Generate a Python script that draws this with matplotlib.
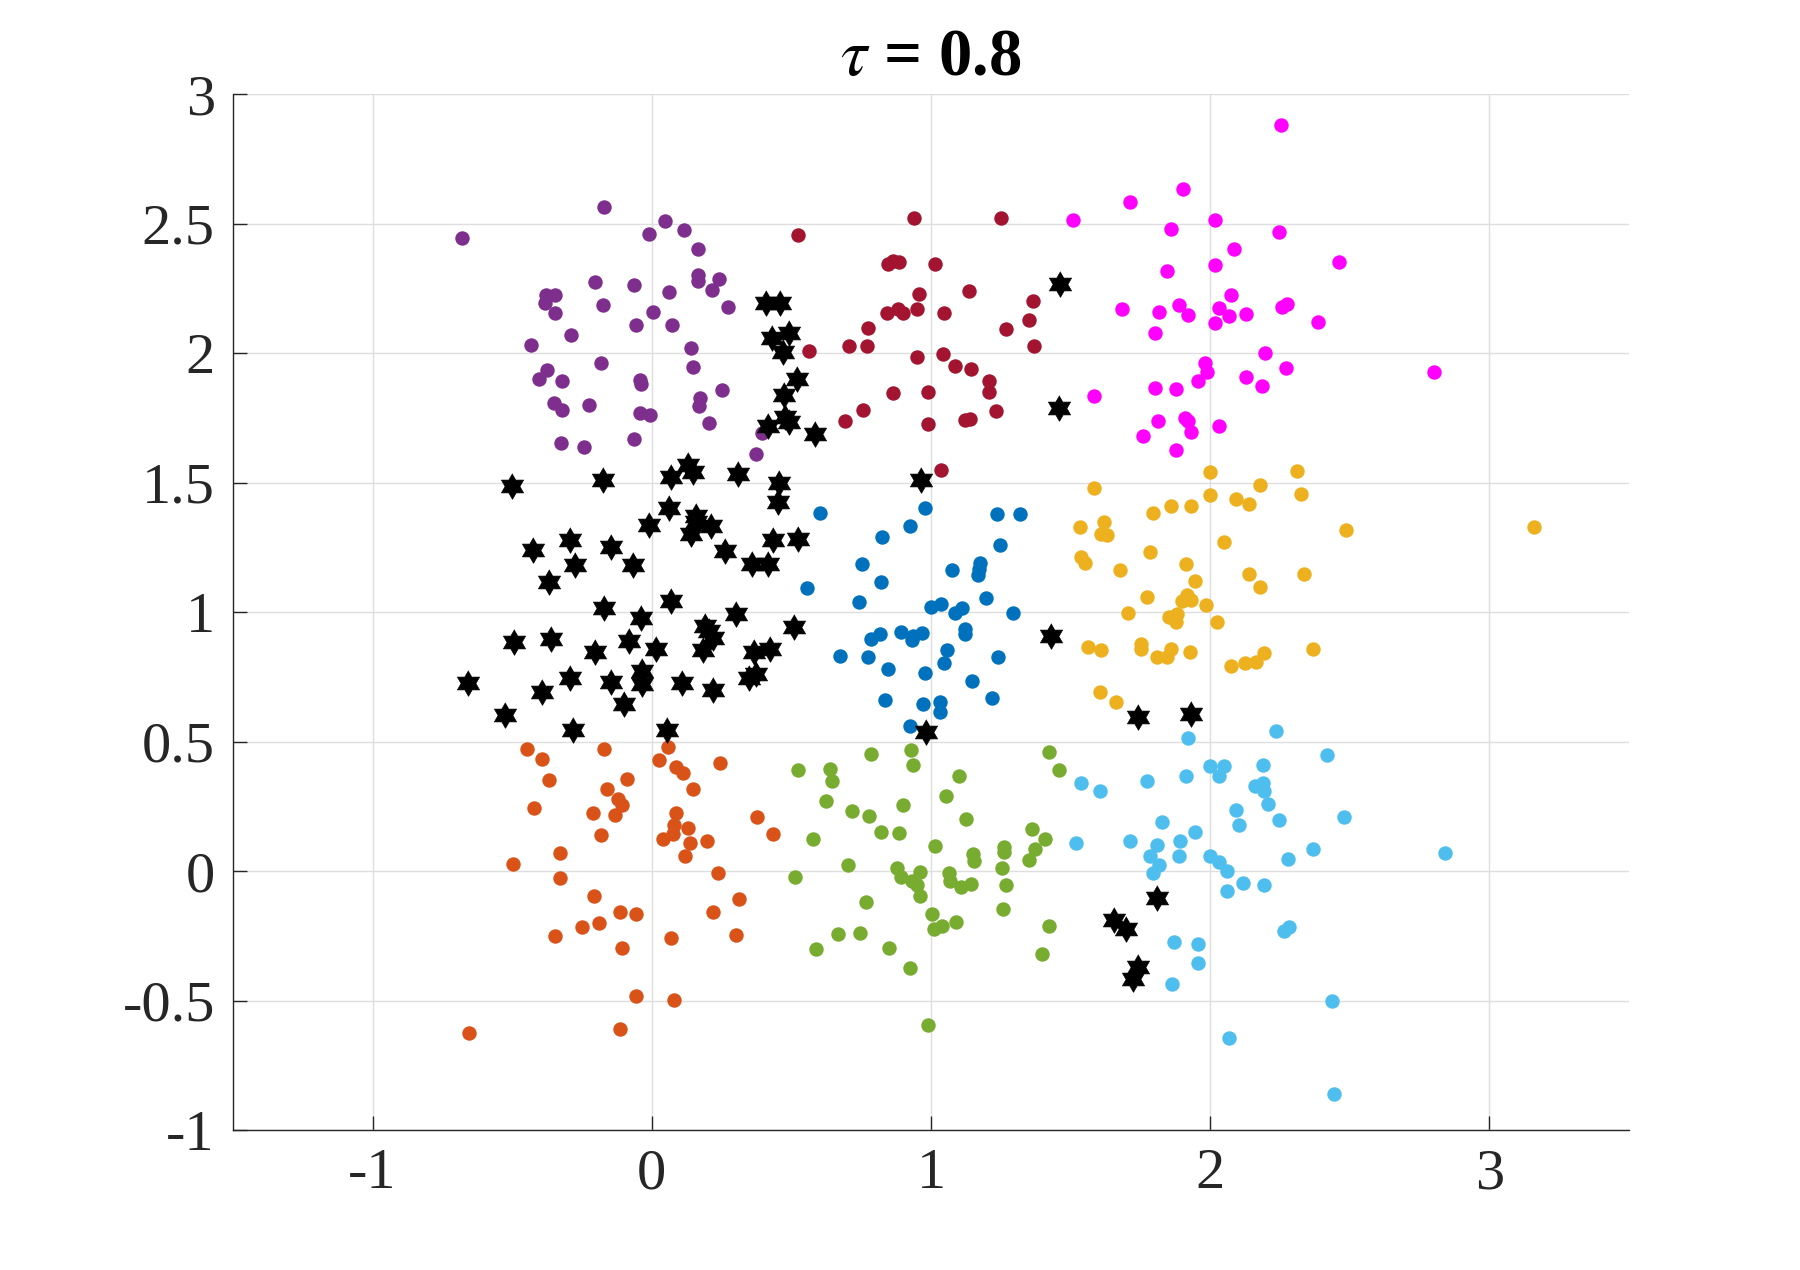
import matplotlib
matplotlib.use("Agg")
import matplotlib.pyplot as plt
import numpy as np

# cluster points, (x, y)
purple_pts = np.array([
    (-0.681, 2.446), (-0.172, 2.566), (0.049, 2.509), (-0.011, 2.461), (0.114, 2.477),
    (0.165, 2.403), (0.165, 2.300), (0.165, 2.279), (0.240, 2.285), (0.217, 2.245),
    (-0.204, 2.276), (-0.065, 2.264), (0.061, 2.235), (-0.379, 2.224), (-0.346, 2.226),
    (-0.384, 2.195), (-0.176, 2.187), (-0.348, 2.156), (0.004, 2.160), (0.272, 2.177),
    (-0.057, 2.107), (0.072, 2.107), (-0.288, 2.068), (-0.434, 2.032), (0.140, 2.021),
    (-0.183, 1.963), (-0.376, 1.933), (-0.403, 1.901), (-0.320, 1.894), (0.149, 1.947),
    (-0.043, 1.898), (-0.039, 1.879), (0.253, 1.858), (-0.351, 1.808), (-0.320, 1.779),
    (-0.226, 1.801), (-0.043, 1.770), (-0.006, 1.762), (0.174, 1.828), (0.168, 1.796),
    (0.204, 1.731), (-0.326, 1.654), (-0.244, 1.639), (-0.065, 1.669), (0.395, 1.692),
    (0.373, 1.611)])

darkred_pts = np.array([
    (0.523, 2.457), (0.563, 2.007), (0.940, 2.522), (1.252, 2.522), (0.846, 2.344),
    (0.865, 2.354), (0.887, 2.351), (1.014, 2.344), (1.137, 2.240), (0.958, 2.229),
    (1.367, 2.202), (0.843, 2.155), (0.882, 2.169), (0.901, 2.154), (0.951, 2.171),
    (1.048, 2.155), (0.775, 2.097), (1.270, 2.093), (1.351, 2.128), (1.370, 2.027),
    (0.707, 2.027), (0.772, 2.027), (0.950, 1.985), (1.044, 1.998), (1.087, 1.950),
    (1.145, 1.938), (1.209, 1.891), (1.209, 1.850), (0.865, 1.846), (0.990, 1.851),
    (0.757, 1.780), (0.693, 1.737), (0.990, 1.726), (1.122, 1.743), (1.140, 1.747),
    (1.234, 1.776), (1.037, 1.548)])

magenta_pts = np.array([
    (1.901, 2.634), (1.712, 2.584), (1.507, 2.514), (1.861, 2.479), (2.016, 2.514),
    (2.019, 2.339), (1.844, 2.318), (1.685, 2.171), (1.817, 2.160), (1.889, 2.185),
    (1.922, 2.147), (2.031, 2.175), (2.016, 2.117), (1.804, 2.078), (1.980, 1.962),
    (1.987, 1.927), (1.958, 1.892), (1.585, 1.834), (1.804, 1.865), (1.876, 1.861),
    (1.813, 1.739), (1.911, 1.750), (1.919, 1.739), (1.933, 1.695), (1.761, 1.680),
    (1.879, 1.625), (2.031, 1.718), (2.252, 2.881), (2.245, 2.467), (2.087, 2.402),
    (2.460, 2.352), (2.075, 2.224), (2.067, 2.143), (2.130, 2.151), (2.257, 2.178),
    (2.275, 2.191), (2.385, 2.120), (2.195, 2.000), (2.270, 1.942), (2.130, 1.907),
    (2.184, 1.873), (2.800, 1.927)])

yellow_pts = np.array([
    (1.998, 1.542), (2.310, 1.544), (2.177, 1.490), (2.001, 1.452), (2.094, 1.436),
    (2.138, 1.417), (2.324, 1.455), (2.485, 1.316), (3.159, 1.328), (2.051, 1.269),
    (1.584, 1.480), (1.796, 1.383), (1.860, 1.410), (1.932, 1.410), (1.621, 1.348),
    (1.608, 1.301), (1.632, 1.297), (1.535, 1.329), (1.786, 1.233), (1.539, 1.211),
    (1.552, 1.188), (1.678, 1.162), (1.914, 1.185), (1.944, 1.120), (1.772, 1.058),
    (1.916, 1.066), (1.898, 1.044), (1.931, 1.046), (1.986, 1.027), (1.704, 0.996),
    (1.854, 0.981), (1.881, 0.992), (1.878, 0.962), (2.026, 0.962), (1.561, 0.867),
    (1.609, 0.854), (1.751, 0.875), (1.754, 0.858), (1.810, 0.827), (1.845, 0.827),
    (1.859, 0.858), (1.929, 0.845), (1.606, 0.692), (1.663, 0.653), (2.138, 1.147),
    (2.335, 1.147), (2.180, 1.097), (2.367, 0.857), (2.073, 0.791), (2.123, 0.805),
    (2.163, 0.806), (2.191, 0.841)])

lightblue_pts = np.array([
    (2.234, 0.540), (2.420, 0.448), (1.998, 0.405), (2.051, 0.405), (2.188, 0.409),
    (2.030, 0.366), (2.162, 0.328), (2.188, 0.339), (2.191, 0.311), (2.206, 0.258),
    (2.091, 0.235), (2.245, 0.196), (2.481, 0.208), (2.102, 0.177), (2.001, 0.057),
    (2.030, 0.035), (2.062, -0.001), (2.277, 0.046), (2.370, 0.085), (2.840, 0.069),
    (2.116, -0.047), (2.191, -0.055), (2.062, -0.078), (2.265, -0.232), (2.284, -0.217),
    (2.438, -0.503), (2.069, -0.645), (2.442, -0.862), (1.921, 0.513), (1.537, 0.339),
    (1.607, 0.310), (1.772, 0.347), (1.912, 0.366), (1.826, 0.189), (1.947, 0.151),
    (1.521, 0.107), (1.714, 0.115), (1.808, 0.100), (1.892, 0.115), (1.783, 0.059),
    (1.817, 0.024), (1.887, 0.059), (1.795, -0.006), (1.869, -0.274), (1.955, -0.283),
    (1.958, -0.356), (1.865, -0.437)])

blue_pts = np.array([
    (0.754, 1.185), (0.557, 1.093), (0.822, 1.116), (0.743, 1.038), (1.077, 1.162),
    (1.176, 1.188), (1.173, 1.166), (1.169, 1.143), (1.198, 1.055), (1.295, 0.997),
    (1.001, 1.018), (1.035, 1.031), (1.087, 0.996), (1.110, 1.015), (0.786, 0.895),
    (0.817, 0.917), (0.892, 0.925), (0.931, 0.893), (0.937, 0.908), (0.968, 0.921),
    (1.122, 0.934), (1.123, 0.917), (0.675, 0.830), (0.775, 0.826), (0.847, 0.780),
    (1.058, 0.853), (1.048, 0.803), (0.979, 0.764), (1.241, 0.826), (1.147, 0.733),
    (1.220, 0.668), (0.834, 0.660), (0.970, 0.644), (1.033, 0.651), (1.033, 0.614),
    (0.926, 0.561), (0.601, 1.384), (0.980, 1.402), (0.925, 1.332), (0.826, 1.290),
    (1.238, 1.379), (1.319, 1.379), (1.247, 1.259)])

green_pts = np.array([
    (0.786, 0.451), (0.930, 0.467), (0.937, 0.409), (0.523, 0.390), (0.638, 0.393),
    (0.645, 0.348), (1.102, 0.366), (1.054, 0.289), (0.625, 0.269), (0.717, 0.232),
    (0.778, 0.212), (0.901, 0.254), (1.127, 0.200), (0.822, 0.150), (0.887, 0.146),
    (0.578, 0.124), (1.014, 0.097), (0.704, 0.022), (0.879, 0.010), (0.894, -0.022),
    (0.961, -0.004), (0.932, -0.038), (0.951, -0.055), (0.961, -0.097), (1.063, -0.006),
    (1.069, -0.038), (1.108, -0.063), (1.145, -0.051), (1.151, 0.065), (1.154, 0.037),
    (1.262, 0.093), (1.263, 0.075), (1.254, 0.011), (1.270, -0.053), (1.363, 0.162),
    (1.410, 0.123), (1.371, 0.084), (1.352, 0.042), (1.421, 0.460), (1.460, 0.389),
    (0.768, -0.119), (1.002, -0.165), (1.011, -0.222), (1.038, -0.213), (1.089, -0.196),
    (1.259, -0.147), (1.424, -0.213), (1.399, -0.320), (0.513, -0.023), (0.668, -0.244),
    (0.745, -0.240), (0.589, -0.302), (0.851, -0.298), (0.926, -0.375), (0.990, -0.595)])

orange_pts = np.array([
    (-0.448, 0.471), (-0.172, 0.471), (-0.394, 0.432), (-0.369, 0.351), (-0.087, 0.355),
    (0.027, 0.428), (0.057, 0.480), (0.087, 0.403), (0.111, 0.377), (0.243, 0.418),
    (0.147, 0.315), (-0.161, 0.315), (-0.122, 0.278), (-0.108, 0.254), (-0.423, 0.243),
    (-0.211, 0.224), (-0.133, 0.216), (0.086, 0.225), (0.078, 0.178), (0.129, 0.167),
    (0.075, 0.145), (0.042, 0.124), (-0.180, 0.138), (0.137, 0.107), (0.197, 0.116),
    (0.119, 0.058), (0.376, 0.209), (0.434, 0.143), (-0.330, 0.069), (-0.498, 0.027),
    (-0.330, -0.028), (0.237, -0.007), (-0.208, -0.097), (0.314, -0.108), (-0.115, -0.158),
    (-0.055, -0.165), (0.219, -0.158), (-0.249, -0.216), (-0.190, -0.201), (-0.348, -0.252),
    (-0.108, -0.298), (0.069, -0.259), (0.301, -0.246), (-0.057, -0.483), (0.079, -0.498),
    (-0.115, -0.611), (-0.656, -0.626)])

# black hexagrams
star_pts = np.array([
    (0.409, 2.193), (0.461, 2.193), (0.431, 2.057), (0.493, 2.078), (0.470, 2.003),
    (0.522, 1.900), (0.472, 1.840), (0.476, 1.752), (0.491, 1.733), (0.416, 1.720),
    (0.584, 1.687), (-0.502, 1.488), (-0.173, 1.510), (0.069, 1.522), (0.129, 1.567),
    (0.149, 1.541), (0.308, 1.535), (0.455, 1.497), (0.452, 1.426), (0.063, 1.400),
    (0.159, 1.372), (0.157, 1.346), (0.213, 1.331), (-0.011, 1.336), (0.141, 1.301),
    (-0.427, 1.241), (-0.292, 1.279), (-0.145, 1.253), (0.264, 1.237), (0.436, 1.277),
    (0.524, 1.283), (0.360, 1.185), (0.416, 1.185), (-0.274, 1.182), (-0.068, 1.182),
    (-0.369, 1.118), (-0.172, 1.015), (-0.039, 0.979), (0.068, 1.044), (0.300, 0.992),
    (0.511, 0.943), (-0.495, 0.885), (-0.362, 0.895), (-0.204, 0.847), (-0.082, 0.890),
    (0.017, 0.857), (0.189, 0.947), (0.204, 0.927), (0.219, 0.899), (0.185, 0.853),
    (0.366, 0.844), (0.422, 0.857), (0.374, 0.761), (0.350, 0.745), (-0.659, 0.728),
    (-0.392, 0.691), (-0.294, 0.745), (-0.147, 0.731), (-0.036, 0.771), (-0.036, 0.722),
    (0.108, 0.725), (0.221, 0.700), (-0.100, 0.645), (-0.527, 0.602), (-0.283, 0.546),
    (0.053, 0.546), (1.462, 2.267), (1.460, 1.788), (0.964, 1.509), (1.431, 0.909),
    (1.743, 0.596), (1.930, 0.606), (0.983, 0.537), (1.808, -0.105), (1.655, -0.190),
    (1.699, -0.222), (1.740, -0.369), (1.725, -0.418)])

clusters = [
    (blue_pts, (0.0, 0.447, 0.741)),
    (orange_pts, (0.850, 0.325, 0.098)),
    (yellow_pts, (0.929, 0.694, 0.125)),
    (purple_pts, (0.494, 0.184, 0.556)),
    (green_pts, (0.466, 0.674, 0.188)),
    (lightblue_pts, (0.301, 0.745, 0.933)),
    (darkred_pts, (0.635, 0.078, 0.184)),
    (magenta_pts, (1.0, 0.0, 1.0)),
]

xticks = [-1, 0, 1, 2, 3]
yticks = [-1, -0.5, 0, 0.5, 1, 1.5, 2, 2.5, 3]

plt.rcParams["font.family"] = ["Liberation Serif", "DejaVu Serif"]
plt.rcParams["mathtext.fontset"] = "stix"
plt.rcParams["axes.unicode_minus"] = False

# six-pointed star (hexagram), one point up
ang = np.pi / 2 + np.arange(12) * np.pi / 6
rad = np.where(np.arange(12) % 2 == 0, 1.0, 1 / np.sqrt(3))
hexagram = list(zip(rad * np.cos(ang), rad * np.sin(ang)))

fig = plt.figure(figsize=(18, 12.7), dpi=100)
ax = fig.add_axes([0.1294, 0.1102, 0.7756, 0.8157])

for pts, col in clusters:
    ax.scatter(pts[:, 0], pts[:, 1], s=108, color=col, linewidths=0, zorder=3)
ax.scatter(star_pts[:, 0], star_pts[:, 1], s=340, marker=hexagram, color="black",
           linewidths=0.5, edgecolors="black", zorder=4)

ax.set_xlim(-1.5, 3.5)
ax.set_ylim(-1, 3)
ax.set_xticks(xticks)
ax.set_yticks(yticks)
ax.set_xticklabels([f"{v:g}" for v in xticks])
ax.set_yticklabels([f"{v:g}" for v in yticks])

ax.grid(True, color="#dedede", linewidth=1.0)
ax.set_axisbelow(True)
for side in ["top", "right"]:
    ax.spines[side].set_visible(False)
for side in ["left", "bottom"]:
    ax.spines[side].set_color("#262626")
    ax.spines[side].set_linewidth(1.0)

ax.tick_params(axis="both", direction="in", length=10, width=1.0, colors="#262626",
               labelsize=42)
ax.tick_params(axis="y", pad=13)
ax.tick_params(axis="x", pad=13)

ax.set_title(r"$\tau$ = 0.8", fontsize=48, fontweight="bold", pad=14)

fig.savefig("out.png", dpi=100)
